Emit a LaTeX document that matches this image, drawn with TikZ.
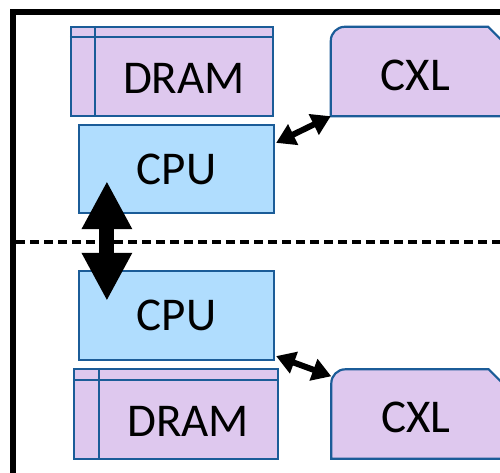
\documentclass[tikz,border=0pt]{standalone}
\usepackage{fontspec}
\setmainfont{Carlito}
\usetikzlibrary{arrows.meta,calc}
\definecolor{edgeblue}{HTML}{1B5C98}
\definecolor{lav}{HTML}{DEC8EE}
\definecolor{skyb}{HTML}{B0DDFE}
\begin{document}
\begin{tikzpicture}[x=1pt,y=-1pt,
  cpubox/.style={draw=edgeblue, line width=2.2pt, fill=skyb, minimum width=195pt, inner sep=0pt, font=\fontsize{47}{56}\selectfont},
  drambox/.style={draw=edgeblue, line width=2.2pt, fill=lav, inner sep=0pt},
  innerline/.style={draw=edgeblue, line width=2.2pt},
  cxlarea/.style={minimum width=169pt, minimum height=89pt, inner sep=0pt},
  cxlshape/.style={draw=edgeblue, line width=2.2pt, fill=lav},
  lbl/.style={font=\fontsize{47}{56}\selectfont, inner sep=0pt},
  link/.style={line width=6pt, {Triangle[length=19pt,width=22pt]}-{Triangle[length=19pt,width=22pt]}},
  bigarrow/.style={line width=15pt, {Triangle[length=48pt,width=47pt]}-{Triangle[length=48pt,width=47pt]}}]
\useasboundingbox (0,0) rectangle (500,473);
\begin{scope}
\clip (0,0) rectangle (500,473);
% frame
\draw[line width=6pt] (13,530) -- (13,12) -- (530,12);
\draw[line width=3.2pt, dash pattern=on 9pt off 5pt] (16,242) -- (500,242);

% top side
\node[drambox, minimum width=202pt, minimum height=89pt] (dram1) at (172,71.5) {};
\draw[innerline] ($(dram1.north west)+(0,11)$) -- ($(dram1.north east)+(0,11)$);
\draw[innerline] ($(dram1.north west)+(25,0)$) -- ($(dram1.south west)+(25,0)$);
\node[lbl] (dramt1) at ($(dram1.center)+(12,7)$) {DRAM};

\node[cpubox, minimum height=88pt] (cpu1) at (176.5,169) {CPU};

\node[cxlarea] (cxl1) at (415.5,71.5) {};
\draw[cxlshape] (cxl1.south west) [rounded corners=14pt] -- (cxl1.north west) [sharp corners] -- ($(cxl1.north east)+(-12,0)$) -- ($(cxl1.north east)+(18,30)$) -- ($(cxl1.south east)+(18,0)$) -- cycle;
\node[lbl] (cxlt1) at ($(cxl1.center)+(0,3.5)$) {CXL};

% bottom side
\node[cpubox, minimum height=89pt] (cpu2) at (176.5,315.5) {CPU};

\node[drambox, minimum width=204pt, minimum height=90pt] (dram2) at (176,414) {};
\draw[innerline] ($(dram2.north west)+(0,12)$) -- ($(dram2.north east)+(0,12)$);
\draw[innerline] ($(dram2.north west)+(26,0)$) -- ($(dram2.south west)+(26,0)$);
\node[lbl] (dramt2) at ($(dram2.center)+(12,7)$) {DRAM};

\node[cxlarea] (cxl2) at (416,414) {};
\draw[cxlshape] (cxl2.south west) [rounded corners=14pt] -- (cxl2.north west) [sharp corners] -- ($(cxl2.north east)+(-12,0)$) -- ($(cxl2.north east)+(18,30)$) -- ($(cxl2.south east)+(18,0)$) -- cycle;
\node[lbl] (cxlt2) at ($(cxl2.center)+(0,3.5)$) {CXL};

% connectors
\coordinate (a1) at ($(cpu1.north east)+(1,19)$);
\draw[link] (a1) -- (cxl1.south west);
\coordinate (a2) at ($(cpu2.south east)+(1,-5)$);
\coordinate (b2) at ($(cxl2.north west)+(0,7)$);
\draw[link] (a2) -- (b2);
\coordinate (c1) at ($(cpu1.south west)+(29,-33)$);
\coordinate (c2) at ($(cpu2.north west)+(29,31)$);
\draw[bigarrow] (c1) -- (c2);
\end{scope}
\end{tikzpicture}
\end{document}
